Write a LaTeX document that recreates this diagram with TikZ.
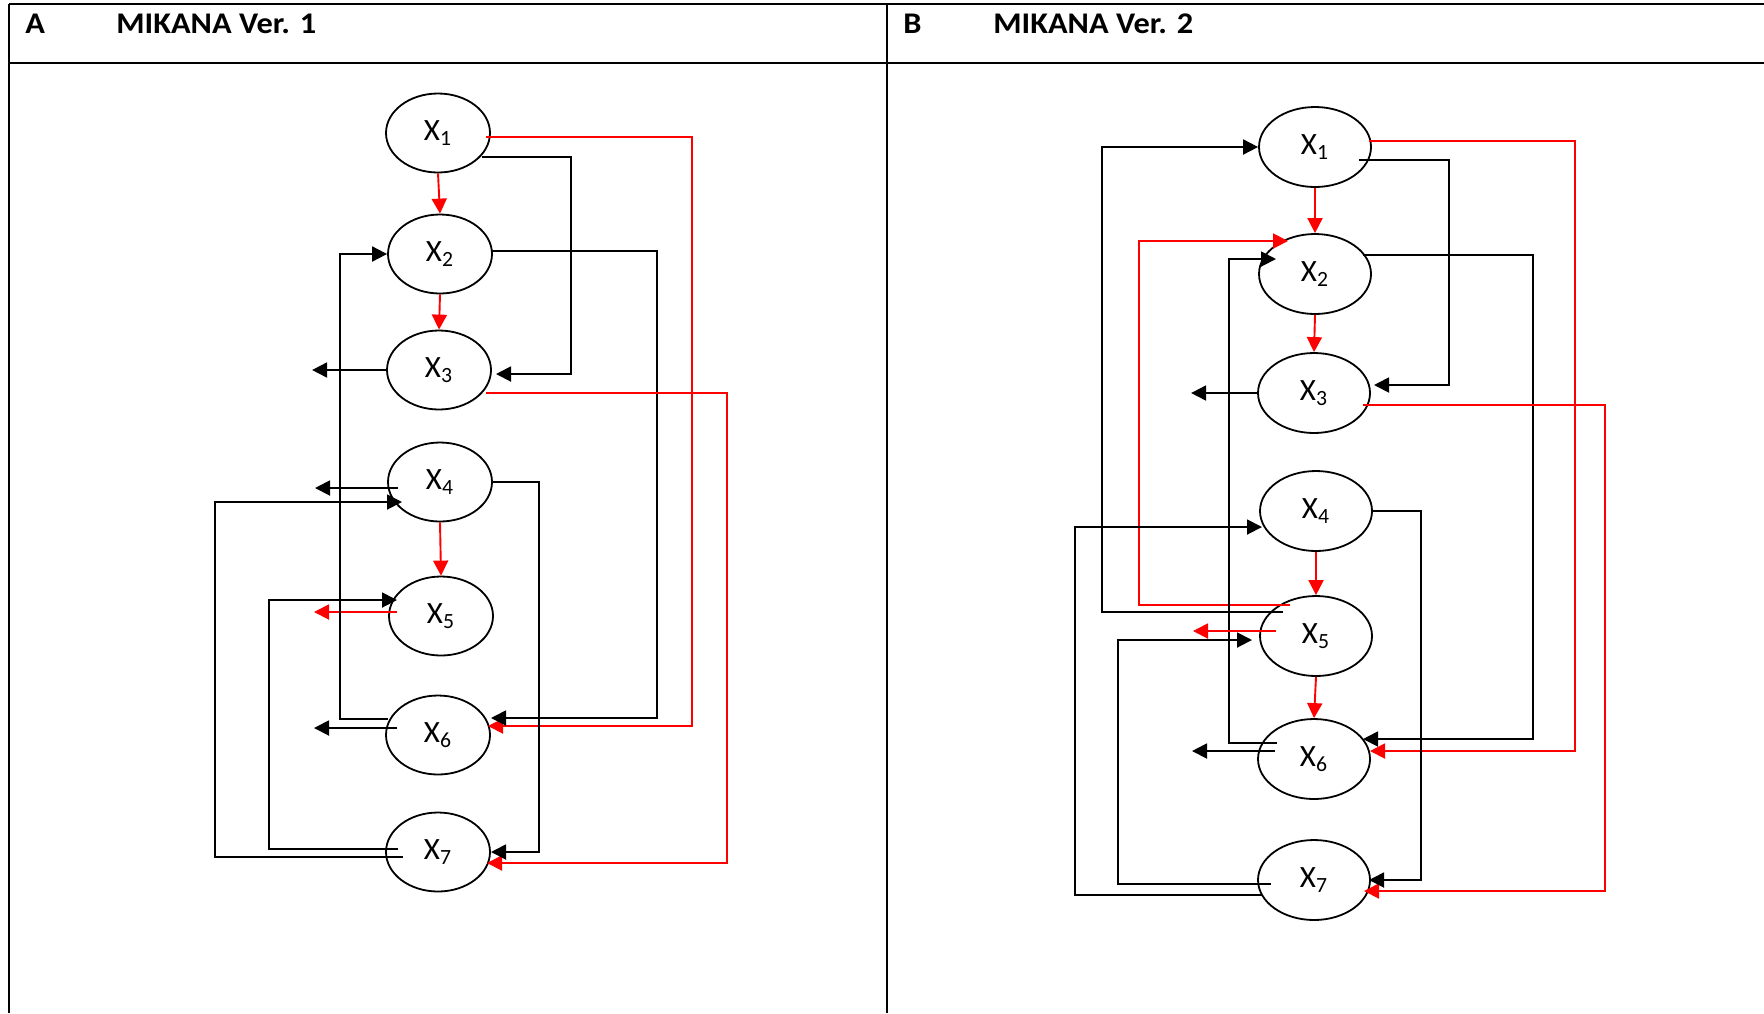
\documentclass[tikz,border=0pt]{standalone}
\usepackage{fontspec}
\setmainfont{Carlito}
\newfontfamily\headfont[FakeStretch=1.08]{Carlito}
\usetikzlibrary{arrows.meta,shapes.geometric,calc}

\begin{document}
\begin{tikzpicture}[x=0.5pt, y=-0.5pt,
    var/.style={ellipse, draw, line width=0.9pt, minimum width=52pt, minimum height=39.5pt, inner sep=0pt, font=\fontsize{15.5pt}{18pt}\selectfont},
    wide var/.style={var, minimum width=56pt, minimum height=40pt},
    flow/.style={line width=0.95pt, -{Triangle[length=7.5pt,width=7.5pt]}},
    redflow/.style={flow, red},
    head/.style={anchor=base west, inner sep=0pt, font=\headfont\bfseries\fontsize{15pt}{18pt}\selectfont}]
    \useasboundingbox (0,0) rectangle (1764,1013);
    % table
    \draw[line width=1.1pt] (9,4) -- (1764,4);
    \draw[line width=1.3pt] (9,63) -- (1764,63);
    \draw[line width=0.8pt] (9,4) -- (9,1013);
    \draw[line width=0.8pt] (887,4) -- (887,1013);
    \node[head] (labA) at (25,33) {A};
    \node[head] (titleA) at (116,33) {MIKANA Ver. 1};
    \node[head] (labB) at (903,33) {B};
    \node[head] (titleB) at (993,33) {MIKANA Ver. 2};

    % Ver. 1
    \node[var] (a1) at (438,133) {X\textsubscript{1}};
    \node[var] (a2) at (440,254) {X\textsubscript{2}};
    \node[var] (a3) at (439,370) {X\textsubscript{3}};
    \node[var] (a4) at (440,482) {X\textsubscript{4}};
    \node[var] (a5) at (441,616) {X\textsubscript{5}};
    \node[var] (a6) at (438,735) {X\textsubscript{6}};
    \node[var] (a7) at (438,852) {X\textsubscript{7}};
    \draw[redflow] (a1.south) -- (a2.north);
    \draw[redflow] (a2.south) -- (a3.north);
    \draw[redflow] (a4.south) -- (a5.north);
    \draw[flow] ($(a1)+(44,24)$) -- (571,157) |- ($(a3)+(57,4)$);
    \draw[redflow] ($(a1)+(48,4)$) -- (692,137) |- ($(a6)+(50,-9)$);
    \draw[flow] ($(a2)+(51,-3)$) -- (657,251) |- ($(a6)+(53,-17)$);
    \draw[redflow] ($(a3)+(47,23)$) -- (727,393) |- ($(a7)+(49,11)$);
    \draw[flow] (a3.west) -- ++(-74,0);
    \draw[flow] ($(a4)+(-42,6)$) -- ++(-83,0);
    \draw[flow] (a4.east) -- (539,482) |- ($(a7)+(53,0)$);
    \draw[flow] ($(a7)+(-35,5)$) -- (215,857) |- ($(a4)+(-38,20)$);
    \draw[flow] ($(a7)+(-40,-3)$) -- (269,849) |- ($(a5)+(-44,-16)$);
    \draw[redflow] ($(a5)+(-44,-4)$) -- ++(-83,0);
    \draw[flow] ($(a6)+(-50,-16)$) -- (340,719) |- (a2.west);
    \draw[flow] ($(a6)+(-41,-7)$) -- ++(-83,0);

    % Ver. 2
    \node[wide var] (b1) at (1315,147) {X\textsubscript{1}};
    \node[wide var] (b2) at (1315,274) {X\textsubscript{2}};
    \node[wide var] (b3) at (1314,393) {X\textsubscript{3}};
    \node[wide var] (b4) at (1316,511) {X\textsubscript{4}};
    \node[wide var] (b5) at (1316,636) {X\textsubscript{5}};
    \node[wide var] (b6) at (1314,759) {X\textsubscript{6}};
    \node[wide var] (b7) at (1314,880) {X\textsubscript{7}};
    \draw[redflow] (b1.south) -- (b2.north);
    \draw[redflow] (b2.south) -- (b3.north);
    \draw[redflow] (b4.south) -- (b5.north);
    \draw[redflow] (b5.south) -- (b6.north);
    \draw[flow] ($(b1)+(44,13)$) -- (1449,160) |- ($(b3)+(60,-8)$);
    \draw[redflow] ($(b1)+(54,-6)$) -- (1575,141) |- ($(b6)+(56,-8)$);
    \draw[flow] ($(b2)+(48,-19)$) -- (1533,255) |- ($(b6)+(49,-20)$);
    \draw[redflow] ($(b3)+(49,12)$) -- (1605,405) |- ($(b7)+(50,11)$);
    \draw[flow] (b3.west) -- ++(-66,0);
    \draw[flow] ($(b5)+(-33,-24)$) -- (1102,612) |- (b1.west);
    \draw[redflow] ($(b5)+(-26,-31)$) -- (1139,605) |- ($(b2)+(-27,-33)$);
    \draw[flow] ($(b6)+(-37,-16)$) -- (1229,743) |- ($(b2)+(-39,-15)$);
    \draw[redflow] ($(b5)+(-40,-5)$) -- ++(-83,0);
    \draw[flow] ($(b7)+(-43,4)$) -- (1118,884) |- ($(b5)+(-64,4)$);
    \draw[flow] ($(b7)+(-52,15)$) -- (1075,895) |- ($(b4)+(-54,16)$);
    \draw[flow] (b4.east) -- (1421,511) |- ($(b7)+(55,0)$);
    \draw[flow] ($(b6)+(-39,-8)$) -- ++(-83,0);
\end{tikzpicture}
\end{document}
